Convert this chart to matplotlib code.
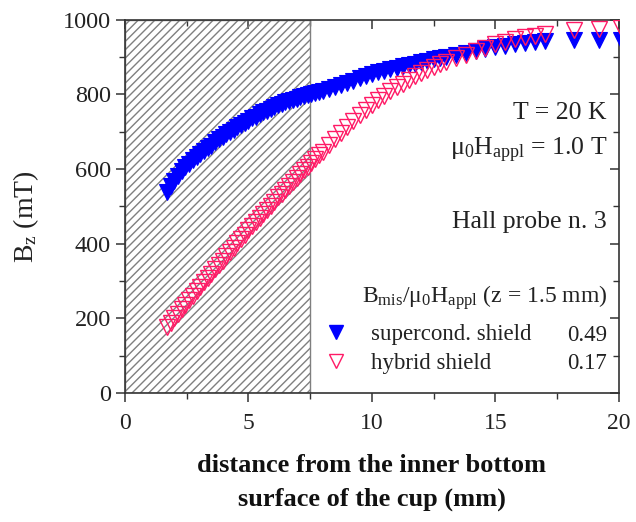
import matplotlib
matplotlib.use("Agg")
import matplotlib.pyplot as plt
from matplotlib.patches import Rectangle
from matplotlib.lines import Line2D
from matplotlib.ticker import MultipleLocator

plt.rcParams['font.family'] = ['Liberation Serif', 'DejaVu Serif']
plt.rcParams['mathtext.fontset'] = 'custom'
plt.rcParams['mathtext.rm'] = 'Liberation Serif'
plt.rcParams['mathtext.it'] = 'Liberation Serif:italic'
plt.rcParams['mathtext.bf'] = 'Liberation Serif:bold'
plt.rcParams['hatch.color'] = '#7f7f7f'
plt.rcParams['hatch.linewidth'] = 1.0

# ---- data ----
x_pos = [1.70, 1.85, 2.00, 2.15, 2.30, 2.45, 2.60, 2.75, 2.90, 3.05, 3.20, 3.35, 3.50, 3.65,
         3.80, 3.95, 4.10, 4.25, 4.40, 4.55, 4.70, 4.85, 5.00, 5.15, 5.30, 5.45, 5.60, 5.75,
         5.90, 6.05, 6.20, 6.35, 6.50, 6.65, 6.80, 6.95, 7.10, 7.25, 7.40, 7.55, 7.70, 7.85,
         8.00,
         8.25, 8.50, 8.75, 9.00, 9.25, 9.50, 9.75, 10.00, 10.25, 10.50, 10.75, 11.00, 11.25,
         11.50, 11.75, 12.00, 12.25, 12.50, 12.75, 13.00,
         13.4, 13.8, 14.2, 14.6, 15.0, 15.4, 15.8, 16.2, 16.6, 17.0,
         18.2, 19.2, 20.1]
bz_supercond = [540, 555, 568, 582, 595, 605, 615, 624, 632, 640, 648, 656, 663, 672,
                680, 687, 694, 700, 706, 712, 718, 724, 730, 736, 741, 747, 752, 757,
                762, 767, 771, 775, 779, 783, 786, 789, 792, 795, 798, 800, 803, 806,
                809,
                814, 820, 826, 831, 837, 843, 849, 855, 860, 864, 868, 872, 876,
                879, 883, 887, 891, 895, 898, 901,
                906, 912, 917, 922, 928, 931, 935, 938, 940, 942,
                945, 945, 946]
bz_hybrid = [177, 189, 200, 212, 224, 236, 249, 261, 273, 285, 297, 308, 320, 332,
             344, 355, 367, 378, 390, 401, 413, 424, 436, 447, 458, 469, 480, 491,
             502, 513, 524, 534, 545, 555, 566, 576, 587, 597, 607, 617, 627, 637,
             647,
             664, 681, 697, 713, 729, 744, 758, 772, 785, 797, 809, 819, 829,
             839, 849, 858, 866, 874, 881, 888,
             898, 907, 916, 925, 934, 941, 948, 953, 958, 962,
             972, 975, 978]
series_labels = ["supercond. shield", "hybrid shield"]
ratio_values = ["0.49", "0.17"]
shield_region = (0.0, 7.5)

fig = plt.figure(figsize=(6.36, 5.22), dpi=100)
ax = fig.add_axes([0.1965, 0.247, 0.7765, 0.715])

rect = Rectangle((shield_region[0], 0), shield_region[1] - shield_region[0], 1000,
                 facecolor='none', edgecolor='#7f7f7f', hatch='////', linewidth=1.0, zorder=1)
ax.add_patch(rect)

ax.plot(x_pos, bz_supercond, linestyle='none', marker='v', ms=11,
        mfc='#0000ff', mec='#0000ff', mew=0.8, zorder=3)
ax.plot(x_pos, bz_hybrid, linestyle='none', marker='v', ms=11,
        mfc='none', mec='#ff1a66', mew=1.0, zorder=4)

ax.set_xlim(0, 20)
ax.set_ylim(0, 1000)
ax.xaxis.set_major_locator(MultipleLocator(5))
ax.xaxis.set_minor_locator(MultipleLocator(2.5))
ax.yaxis.set_major_locator(MultipleLocator(200))
ax.yaxis.set_minor_locator(MultipleLocator(100))
ax.tick_params(which='major', direction='out', length=6.5, width=1.1,
               colors='#333333', labelcolor='#222222')
ax.tick_params(which='minor', direction='out', length=4, width=1.0, colors='#333333')
ax.tick_params(axis='x', which='major', labelsize=17, pad=8)
ax.tick_params(axis='y', which='major', labelsize=17.5, pad=3.5)
for s in ax.spines.values():
    s.set_color('#333333')
    s.set_linewidth(1.2)

top = ax.secondary_xaxis('top')
top.xaxis.set_major_locator(MultipleLocator(5))
top.xaxis.set_minor_locator(MultipleLocator(2.5))
top.tick_params(which='major', direction='in', length=6.5, width=1.1, labeltop=False, colors='#333333')
top.tick_params(which='minor', direction='in', length=4, width=1.0, colors='#333333')
top.spines['top'].set_visible(False)
right = ax.secondary_yaxis('right')
right.yaxis.set_major_locator(MultipleLocator(200))
right.yaxis.set_minor_locator(MultipleLocator(100))
right.tick_params(which='major', direction='in', length=6.5, width=1.1, labelright=False, colors='#333333')
right.tick_params(which='minor', direction='in', length=4, width=1.0, colors='#333333')
right.spines['right'].set_visible(False)

ax.set_ylabel(r'B$_\mathrm{z}$ (mT)', fontsize=20, color='#222222')
ax.yaxis.set_label_coords(-0.2, 0.472)
ax.yaxis.label.set_va('center')
ax.set_xlabel('distance from the inner bottom\nsurface of the cup (mm)', fontsize=19,
              fontweight='bold', linespacing=1.6, color='#111111')
ax.xaxis.set_label_coords(0.5, -0.163)
ax.xaxis.label.set_va('top')

tkw = dict(transform=ax.transAxes, ha='right', va='center', fontsize=18.5, color='#222222')
ax.text(0.976, 0.751, 'T = 20 K', **tkw)
ax.text(0.976, 0.651, r'$\mathrm{\mu_0 H_{appl}}$ = 1.0 T', **tkw)
ax.text(0.976, 0.458, 'Hall probe n. 3', **tkw)
ax.text(0.976, 0.257, r'$\mathrm{B_{mis}/\mu_0 H_{appl}}$ (z = 1.5 mm)', transform=ax.transAxes,
        ha='right', va='center', fontsize=17, color='#222222')

handles = [Line2D([], [], linestyle='none', marker='v', ms=10, mfc='#0000ff', mec='#0000ff'),
           Line2D([], [], linestyle='none', marker='v', ms=10, mfc='none', mec='#ff1a66', mew=1.0)]
leg = ax.legend(handles, series_labels, loc='center left', bbox_to_anchor=(0.405, 0.1175),
                frameon=False, fontsize=16.5, handlelength=1.0, handletextpad=1.0,
                labelspacing=0.35, borderaxespad=0, borderpad=0)
for t in leg.get_texts():
    t.set_color('#222222')
ax.text(0.976, 0.155, ratio_values[0], transform=ax.transAxes, ha='right', va='center',
        fontsize=16.5, color='#222222')
ax.text(0.976, 0.080, ratio_values[1], transform=ax.transAxes, ha='right', va='center',
        fontsize=16.5, color='#222222')

fig.savefig('out.png', dpi=100)
